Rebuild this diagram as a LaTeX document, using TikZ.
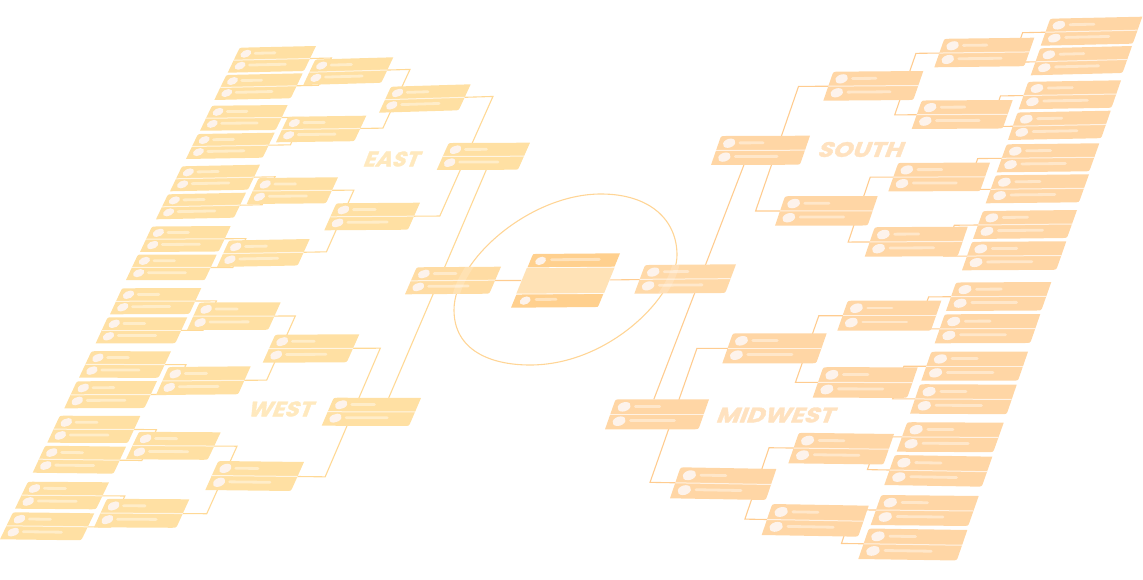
\documentclass[tikz,border=0pt]{standalone}
\usepackage{fontspec}
\newfontfamily\labelfont[BoldFeatures={FakeBold=1.6}]{Poppins}
\usetikzlibrary{calc}
\pgfdeclarelayer{links}
\pgfsetlayers{links,main}
\definecolor{cardW}{HTML}{FFE0A3}
\definecolor{cardE}{HTML}{FFD6A5}
\definecolor{semiW}{HTML}{FFDCA3}
\definecolor{semiE}{HTML}{FFD9A8}
\definecolor{ctrdark}{HTML}{FFD08E}
\definecolor{ctrpale}{HTML}{FFE2B6}
\definecolor{lineW}{HTML}{FFD996}
\definecolor{lineE}{HTML}{FFCC90}
\definecolor{loopc}{HTML}{FFD596}
\definecolor{dotc}{HTML}{FDF3EC}
\tikzset{
  cardbody/.style={fill=#1},
  divider/.style={draw=white,draw opacity=.7,line width=1pt},
  dotmark/.style={fill=dotc},
  barmark/.style={draw=white,draw opacity=.42,line width=2.8pt,line cap=round},
  linkW/.style={draw=lineW,line width=1.1pt,line join=miter},
  linkE/.style={draw=lineE,line width=1.1pt,line join=miter},
  regionW/.style={font=\labelfont\bfseries\fontsize{21}{21}\selectfont,text=#1,inner sep=0pt,xslant=.38,transform shape},
}
% name, TR x,y, BL x,y, h x,y, colour
\newcommand{\card}[8]{%
  \pgfmathsetmacro{\mA}{(#2-#4+#6)/100}%
  \pgfmathsetmacro{\mB}{-(#3-#5+#7)/100}%
  \pgfmathsetmacro{\mC}{-(#6)/100}%
  \pgfmathsetmacro{\mD}{(#7)/100}%
  \pgfmathsetmacro{\mX}{#4-(#6)}%
  \pgfmathsetmacro{\mY}{#5-(#7)}%
  \begin{scope}[cm={\mA,\mB,\mC,\mD,(\mX,\mY)}]
    \coordinate (#1-tl) at (0,0);
    \coordinate (#1-tr) at (100,0);
    \coordinate (#1-bl) at (0,100);
    \coordinate (#1-br) at (100,100);
    \coordinate (#1-c) at (50,50);
    \coordinate (#1-l) at (0,50);
    \coordinate (#1-r) at (100,50);
    \path[cardbody=#8] (6,0) -- (100,0) -- (100,86) .. controls (100,100) and (100,100) .. (94,100) -- (0,100) -- (0,14) .. controls (0,0) and (0,0) .. (6,0) -- cycle;
    \draw[divider] (0,50) -- (100,50);
    \path[dotmark] (12,25) ellipse [x radius=6.8,y radius=16];
    \path[dotmark] (12,73) ellipse [x radius=6.8,y radius=16];
    \draw[barmark] (24,24) -- (50,24);
    \draw[barmark] (24,71) -- (71,71);
  \end{scope}}
% from, side of from, fraction along the target, target, style
\newcommand{\link}[5]{%
  \coordinate (p) at ($(#4-tl)!#3!(#4-tr)$);
  \coordinate (q) at ($(#4-bl)!#3!(#4-br)$);
  \coordinate (k) at (intersection cs:first line={(#1-c)--(#1-#2)},second line={(p)--(q)});
  \draw[#5] (#1-c) -- (k) -- ($(p)!.5!(q)$);}
\newcommand{\looppath}{(601,194) .. controls (650,194) and (677,220) .. (677,255) .. controls (677,295) and (610,365) .. (530,365) .. controls (490,365) and (454,350) .. (454,310) .. controls (454,260) and (530,194) .. (601,194) -- cycle}
\begin{document}
\begin{tikzpicture}[x=1pt,y=-1pt]
\useasboundingbox (0,0) rectangle (1143,580);
% East
\card{E1}{316}{46}{227.7}{72.7}{-12}{25}{cardW}
\card{E2}{302.7}{73.3}{214.3}{100}{-12}{25}{cardW}
\card{E3}{287.7}{105}{200}{130.7}{-12}{25}{cardW}
\card{E4}{274.7}{132.7}{186}{159}{-12}{25}{cardW}
\card{E5}{260}{164.7}{170}{191.3}{-12}{25}{cardW}
\card{E6}{246}{192.7}{156}{219.3}{-12}{25}{cardW}
\card{E7}{230.7}{226}{140}{252}{-12}{25.5}{cardW}
\card{E8}{216.7}{254.7}{126}{280}{-12}{25.5}{cardW}
\card{EA}{393.3}{57.3}{303.3}{85}{-12}{25.5}{cardW}
\card{EB}{366.3}{115.7}{276}{142.3}{-12}{25.5}{cardW}
\card{EC}{338}{177.3}{246.7}{204}{-12}{26}{cardW}
\card{ED}{309.7}{239}{217}{267}{-12}{26.5}{cardW}
\card{EAA}{470.7}{84.3}{379}{112.7}{-12}{26}{cardW}
\card{EBB}{420}{202.7}{324.3}{230.3}{-12}{27}{cardW}
\card{EF}{530}{142.7}{436.7}{170}{-12}{27}{cardW}
% West
\card{W1}{201.3}{288}{110}{314.3}{-12}{26}{cardW}
\card{W2}{187.3}{317.3}{95.7}{343.3}{-12}{26}{cardW}
\card{W3}{171}{351.3}{79}{377.7}{-12.5}{26.5}{cardW}
\card{W4}{157}{381}{64.3}{408.3}{-12.5}{27}{cardW}
\card{W5}{140.3}{416}{47.3}{442.7}{-12.5}{27}{cardW}
\card{W6}{126}{446.7}{32.7}{472.7}{-12.5}{27}{cardW}
\card{W7}{109}{482.3}{15}{508.7}{-13}{27}{cardW}
\card{W8}{94.3}{513.3}{0}{539.3}{-13}{27}{cardW}
\card{WA}{280.7}{302.3}{187}{330}{-12.5}{27.5}{cardW}
\card{WB}{250.7}{366.3}{156}{395}{-12.5}{28}{cardW}
\card{WC}{220.7}{432.3}{126}{459.3}{-13}{27.5}{cardW}
\card{WD}{189.3}{499.3}{94}{527.3}{-13}{28.5}{cardW}
\card{WAA}{359.3}{334.3}{262.7}{362.7}{-12.5}{28}{cardW}
\card{WBB}{304}{462}{205.3}{490}{-13}{29}{cardW}
\card{WF}{421}{398}{321.7}{425.7}{-12}{28}{cardW}
% South
\card{S1}{1142.3}{16.7}{1040.7}{45.7}{-9.5}{27}{cardE}
\card{S2}{1132}{46}{1030.7}{75.3}{-9.5}{27}{cardE}
\card{S3}{1121}{80.3}{1018.7}{109.3}{-9.5}{27.5}{cardE}
\card{S4}{1110.7}{110.7}{1008}{140}{-9.5}{27.5}{cardE}
\card{S5}{1099.3}{143.3}{996.7}{172.3}{-10}{28}{cardE}
\card{S6}{1089}{174.3}{985.7}{203.3}{-10}{28}{cardE}
\card{S7}{1077}{210}{973}{239}{-10}{28}{cardE}
\card{S8}{1066.3}{241.3}{962}{270.3}{-10}{28.5}{cardE}
\card{SA}{1034.3}{37.7}{934.3}{67.3}{-10}{28.5}{cardE}
\card{SB}{1012.7}{100}{911.7}{129}{-10}{28.5}{cardE}
\card{SC}{990}{162.7}{888.3}{191.3}{-10}{28.5}{cardE}
\card{SD}{967.7}{226.7}{864.7}{256.7}{-10}{29.5}{cardE}
\card{SAA}{923.3}{71}{823.3}{100.7}{-10}{29}{cardE}
\card{SBB}{877.7}{196}{775}{225.7}{-10}{29.5}{cardE}
\card{SF}{810}{135.7}{711}{165}{-10}{29}{cardE}
% Midwest
\card{M1}{1051.3}{282}{946}{311}{-10}{28.5}{cardE}
\card{M2}{1040.3}{314}{934.7}{343.3}{-10}{29}{cardE}
\card{M3}{1028}{351.7}{921.3}{380.7}{-10}{29}{cardE}
\card{M4}{1016.7}{384.7}{910}{413.7}{-10}{29.5}{cardE}
\card{M5}{1003.7}{422.7}{896.7}{451.7}{-10.5}{29.5}{cardE}
\card{M6}{992.3}{456.7}{884.3}{485}{-10.5}{30}{cardE}
\card{M7}{978.7}{496}{870.7}{525}{-10.5}{30}{cardE}
\card{M8}{967.3}{530}{858.3}{559}{-10.5}{30.5}{cardE}
\card{MA}{941.3}{300.7}{837.3}{330.7}{-10.5}{30}{cardE}
\card{MB}{917.7}{367.3}{812.7}{397.7}{-10.5}{30.5}{cardE}
\card{MC}{894}{434}{788.3}{463.3}{-10.5}{30.5}{cardE}
\card{MD}{868.7}{505.7}{761.7}{535}{-10.5}{31}{cardE}
\card{MAA}{826.7}{333.3}{722.3}{363.3}{-10.5}{30}{cardE}
\card{MBB}{776.3}{469}{670}{498.3}{-10.5}{31}{cardE}
\card{MF}{709}{399.3}{605}{429.3}{-10.5}{30}{cardE}
% Semifinal cards
\card{SL}{501}{266.7}{405}{294.3}{-11.7}{27}{semiW}
\card{SR}{736}{264.3}{634.3}{293.7}{-10.7}{28.7}{semiE}
% The loop shows faintly through the two semifinal cards
\begin{scope}
  \clip (SL-tl) -- (SL-tr) -- (SL-br) -- (SL-bl) -- cycle;
  \draw[draw=white,draw opacity=.18,line width=7pt] \looppath;
\end{scope}
\begin{scope}
  \clip (SR-tl) -- (SR-tr) -- (SR-br) -- (SR-bl) -- cycle;
  \draw[draw=white,draw opacity=.18,line width=7pt] \looppath;
\end{scope}
% Centre card
\pgfmathsetmacro{\mA}{(620-511-22)/100}%
\pgfmathsetmacro{\mB}{-(253.3-307.7+53.7)/100}%
\pgfmathsetmacro{\mC}{22/100}%
\pgfmathsetmacro{\mD}{53.7/100}%
\begin{scope}[cm={\mA,\mB,\mC,\mD,(533,254)}]
  \coordinate (CT-c) at (50,50);
  \path[fill=ctrdark] (3,0) -- (100,0) -- (100,96) .. controls (100,100) and (100,100) .. (97,100) -- (0,100) -- (0,4) .. controls (0,0) and (0,0) .. (3,0) -- cycle;
  \path[fill=white] (-1,25) rectangle (101,75.5);
  \path[fill=ctrpale] (-.5,26.5) rectangle (100.5,74);
  \path[dotmark] (12,13) ellipse [x radius=6,y radius=7.8];
  \path[dotmark] (13,87) ellipse [x radius=6,y radius=7.8];
  \draw[barmark] (24,11) -- (79,11);
  \draw[barmark] (25,85) -- (48,85);
\end{scope}
% Connectors
\begin{pgfonlayer}{links}
\draw[loopc,line width=1.1pt] \looppath;
\foreach \f/\t in {E1/EA,E2/EA,E3/EB,E4/EB,E5/EC,E6/EC,E7/ED,E8/ED,W1/WA,W2/WA,W3/WB,W4/WB,W5/WC,W6/WC,W7/WD,W8/WD}{\link{\f}{r}{.2}{\t}{linkW}}
\foreach \f/\t in {EA/EAA,EB/EAA,EC/EBB,ED/EBB,WA/WAA,WB/WAA,WC/WBB,WD/WBB}{\link{\f}{r}{.14}{\t}{linkW}}
\foreach \f/\t in {EAA/EF,EBB/EF,WAA/WF,WBB/WF}{\link{\f}{r}{.29}{\t}{linkW}}
\foreach \f/\t in {S1/SA,S2/SA,S3/SB,S4/SB,S5/SC,S6/SC,S7/SD,S8/SD,M1/MA,M2/MA,M3/MB,M4/MB,M5/MC,M6/MC,M7/MD,M8/MD}{\link{\f}{l}{.85}{\t}{linkE}}
\foreach \f/\t in {SA/SAA,SB/SAA,SC/SBB,SD/SBB,MA/MAA,MB/MAA,MC/MBB,MD/MBB}{\link{\f}{l}{.85}{\t}{linkE}}
\foreach \f/\t in {SAA/SF,SBB/SF,MAA/MF,MBB/MF}{\link{\f}{l}{.68}{\t}{linkE}}
\draw[linkW] ($(EF-bl)!.61!(EF-br)$) -- ($(WF-tl)!.63!(WF-tr)$);
\draw[linkE] ($(SF-bl)!.37!(SF-br)$) -- ($(MF-tl)!.41!(MF-tr)$);
\draw[linkE] (SL-c) -- (CT-c);
\draw[linkE] (CT-c) -- (SR-c);
\end{pgfonlayer}
% Labels
\node[regionW=cardW!70!white,xscale=1.06] (east) at (393,159) {EAST};
\node[regionW=cardW!70!white,xscale=1.1] (west) at (282,409) {WEST};
\node[regionW=cardE!70!white,xscale=1.18] (south) at (862,149.5) {SOUTH};
\node[regionW=cardE!70!white,xscale=1.18] (midwest) at (777,415) {MIDWEST};
\end{tikzpicture}
\end{document}
